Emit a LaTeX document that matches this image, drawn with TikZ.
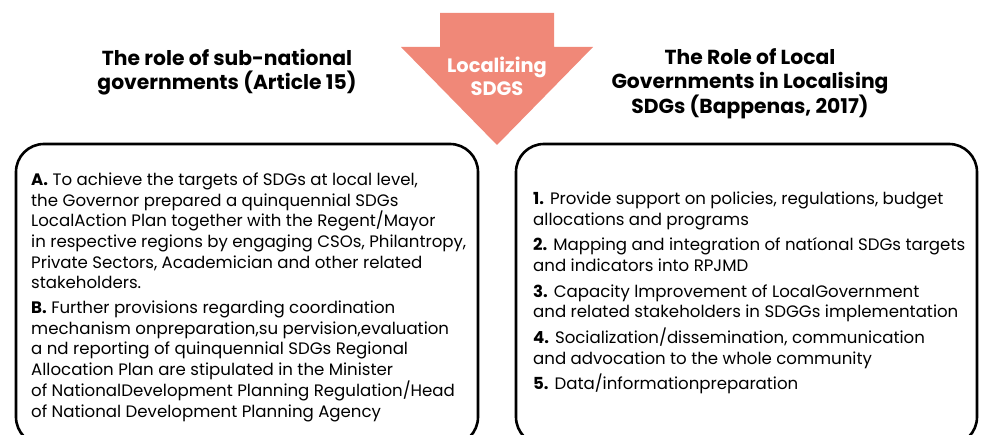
\documentclass[tikz,border=0pt]{standalone}
\usepackage{fontspec}
\setmainfont{Poppins}
\definecolor{salmon}{RGB}{240,136,120}
\begin{document}
\begin{tikzpicture}[x=1pt,y=-1pt,
  roundbox/.style={line width=2.6pt,rounded corners=28pt},
  titletext/.style={font=\fontsize{20.3}{24}\selectfont\bfseries,align=center},
  bodytext/.style={font=\fontsize{16.6}{20.7}\selectfont,align=left,anchor=north west,inner sep=0pt}]
  \useasboundingbox (0,0) rectangle (983,435);
  \begin{scope}
    \clip (0,0) rectangle (983,435);
    \draw[roundbox] (16,144) rectangle (478,445);
    \draw[roundbox] (516,144) rectangle (977,445);
  \end{scope}
  % localizing arrow
  \fill[salmon] (440,13) -- (554,13) -- (554,47) -- (593,47) -- (497,145) -- (401,47) -- (440,47) -- cycle;
  \node[font=\fontsize{19.4}{23}\selectfont\bfseries,text=white,align=center] (loc) at (497,76.5) {Localizing\\SDGS};
  % titles
  \node[titletext] (lefttitle) at (227,72.5) {The role of sub-national\\governments (Article 15)};
  \node[titletext] (righttitle) at (750,84) {The Role of Local\\Governments in Localising\\SDGs (Bappenas, 2017)};
  % left text
  \node[bodytext] (article) at (31,172.5) {\textbf{A.} To achieve the targets of SDGs at local level,\\
    the Governor prepared a quinquennial SDGs\\
    LocalAction Plan together with the Regent/Mayor\\
    in respective regions by engaging CSOs, Philantropy,\\
    Private Sectors, Academician and other related\\
    stakeholders.\\[4pt]
    \textbf{B.} Further provisions regarding coordination\\
    mechanism onpreparation,su pervision,evaluation\\
    a nd reporting of quinquennial SDGs Regional\\
    Allocation Plan are stipulated in the Minister\\
    of NationalDevelopment Planning Regulation/Head\\
    of National Development Planning Agency};
  % right text
  \node[bodytext] (bappenas) at (533,191.5) {\textbf{1.} Provide support on policies, regulations, budget\\
    allocations and programs\\[5pt]
    \textbf{2.} Mapping and integration of natíonal SDGs targets\\
    and indicators into RPJMD\\[5pt]
    \textbf{3.} Capacity lmprovement of LocalGovernment\\
    and related stakeholders in SDGGs implementation\\[5pt]
    \textbf{4.} Socialization/dissemination, communication\\
    and advocation to the whole community\\[5pt]
    \textbf{5.} Data/informationpreparation};
\end{tikzpicture}
\end{document}
